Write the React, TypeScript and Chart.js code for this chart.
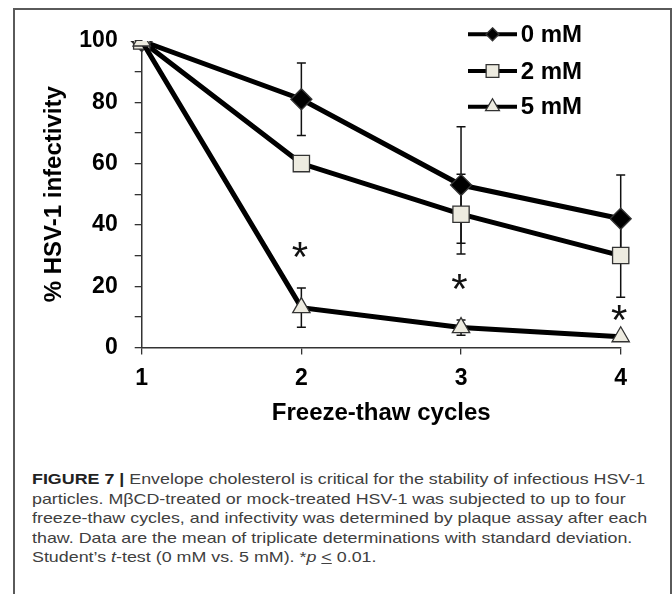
import React, { useEffect, useRef } from "react";
import { Chart, registerables } from "chart.js";

Chart.register(...registerables);

const cycles = ["1", "2", "3", "4"];
const seriesNames = ["0 mM", "2 mM", "5 mM"];
const mM0 = [100, 81, 53, 42];
const mM2 = [100, 60, 43.5, 30];
const mM5 = [100, 13, 6.5, 3.5];
const err0 = [0, 11.8, 19, 14.3];
const err2 = [0, 0, 13, 13.6];
const err5 = [0, 6.4, 2.5, 0];
const asteriskX = [1, 2, 3];
const asteriskY = [31.8, 21.5, 11.4];
const yTicks = [0, 20, 40, 60, 80, 100];

const FONT = "'Liberation Sans', Arial, Helvetica, sans-serif";
const FILL = "#edebe0";
const EDGE = "#333333";

function drawMarker(ctx: CanvasRenderingContext2D, style: string, x: number, y: number, r: number, fill: string) {
  ctx.beginPath();
  if (style === "rectRot") {
    ctx.moveTo(x, y - r);
    ctx.lineTo(x + r, y);
    ctx.lineTo(x, y + r);
    ctx.lineTo(x - r, y);
    ctx.closePath();
  } else if (style === "rect") {
    const s = r * Math.SQRT1_2;
    ctx.rect(x - s, y - s, 2 * s, 2 * s);
  } else {
    const w = r * Math.sin((2 * Math.PI) / 3);
    ctx.moveTo(x, y - r);
    ctx.lineTo(x + w, y + r / 2);
    ctx.lineTo(x - w, y + r / 2);
    ctx.closePath();
  }
  ctx.fillStyle = fill;
  ctx.fill();
  ctx.lineWidth = 1.3;
  ctx.strokeStyle = EDGE;
  ctx.stroke();
}

const errorBarPlugin = {
  id: "errorBars",
  beforeDatasetsDraw(chart: any) {
    const ctx = chart.ctx;
    const xs = chart.scales.x;
    const ys = chart.scales.y;
    const sets = [
      { v: mM0, e: err0 },
      { v: mM2, e: err2 },
      { v: mM5, e: err5 },
    ];
    ctx.save();
    ctx.strokeStyle = "#111";
    ctx.lineWidth = 1.5;
    sets.forEach((s) => {
      s.v.forEach((val, i) => {
        const e = s.e[i];
        if (!e) return;
        const px = xs.getPixelForValue(i);
        const top = ys.getPixelForValue(val + e);
        const bot = ys.getPixelForValue(val - e);
        ctx.beginPath();
        ctx.moveTo(px, top);
        ctx.lineTo(px, bot);
        ctx.moveTo(px - 4.5, top);
        ctx.lineTo(px + 4.5, top);
        ctx.moveTo(px - 4.5, bot);
        ctx.lineTo(px + 4.5, bot);
        ctx.stroke();
      });
    });
    ctx.restore();
  },
};

const overlayPlugin = {
  id: "overlay",
  afterDraw(chart: any) {
    const ctx = chart.ctx;
    const xs = chart.scales.x;
    const ys = chart.scales.y;
    ctx.save();
    // asterisks
    ctx.fillStyle = "#111";
    ctx.font = `42px ${FONT}`;
    ctx.textAlign = "center";
    ctx.textBaseline = "alphabetic";
    asteriskX.forEach((xi, i) => {
      const px = xs.getPixelForValue(xi);
      const py = ys.getPixelForValue(asteriskY[i]);
      const m = ctx.measureText("*");
      const off = (m.actualBoundingBoxAscent - m.actualBoundingBoxDescent) / 2;
      ctx.fillText("*", px - 1.5, py + off);
    });
    // legend
    const styles = ["rectRot", "rect", "triangle"];
    const fills = ["#000", FILL, FILL];
    const radii = [6.5, 9, 8];
    const rowY = [26.3, 63, 98.7];
    const x0 = 455;
    const x1 = 504;
    ctx.font = `bold 24px ${FONT}`;
    ctx.textAlign = "left";
    ctx.textBaseline = "middle";
    seriesNames.forEach((name, i) => {
      const y = rowY[i];
      ctx.strokeStyle = "#000";
      ctx.lineWidth = 4;
      ctx.beginPath();
      ctx.moveTo(x0, y);
      ctx.lineTo(x1, y);
      ctx.stroke();
      drawMarker(ctx, styles[i], (x0 + x1) / 2, y, radii[i], fills[i]);
      ctx.fillStyle = "#000";
      ctx.fillText(name, 507.7, y + 1);
    });
    ctx.restore();
  },
};

export default function App() {
  const ref = useRef<HTMLCanvasElement>(null);
  useEffect(() => {
    if (!ref.current) return;
    const common = {
      borderColor: "#000",
      borderWidth: 5,
      pointBorderColor: EDGE,
      pointBorderWidth: 1.3,
      tension: 0,
      fill: false,
    };
    const chart = new Chart(ref.current, {
      type: "line",
      data: {
        labels: cycles,
        datasets: [
          { ...common, label: seriesNames[0], data: mM0, pointStyle: "rectRot", pointRadius: 10.5, pointBackgroundColor: "#000", order: 3 },
          { ...common, label: seriesNames[1], data: mM2, pointStyle: "rect", pointRadius: 11.5, pointBackgroundColor: FILL, order: 2 },
          { ...common, label: seriesNames[2], data: mM5, pointStyle: "triangle", pointRadius: 10, pointBackgroundColor: FILL, order: 1 },
        ],
      },
      options: {
        animation: false,
        responsive: false,
        events: [],
        layout: { padding: { left: 0, top: 33, right: 50.3, bottom: 0 } },
        plugins: { legend: { display: false }, tooltip: { enabled: false } },
        scales: {
          x: {
            type: "category",
            offset: false,
            afterFit(scale: any) {
              scale.height = 80.5;
            },
            grid: { display: true, drawOnChartArea: false, drawTicks: true, tickLength: 7, color: EDGE, lineWidth: 1.3 },
            border: { display: true, color: EDGE, width: 1.5 },
            ticks: { color: "#000", padding: 10, font: { family: FONT, size: 23, weight: "bold" } },
            title: {
              display: true,
              text: "Freeze-thaw cycles",
              color: "#000",
              font: { family: FONT, size: 24, weight: "bold" },
              padding: { top: 0, bottom: 0.6 },
            },
          },
          y: {
            min: 0,
            max: 100,
            afterFit(scale: any) {
              scale.width = 128.7;
            },
            grid: { display: true, drawOnChartArea: false, drawTicks: true, tickLength: 7, color: EDGE, lineWidth: 1.3 },
            border: { display: true, color: EDGE, width: 1.5 },
            ticks: {
              stepSize: 10,
              color: "#000",
              padding: 17,
              font: { family: FONT, size: 23, weight: "bold" },
              callback: (v: any) => (yTicks.includes(Number(v)) ? String(v) : ""),
            },
            title: {
              display: true,
              text: "% HSV-1 infectivity",
              color: "#000",
              font: { family: FONT, size: 24, weight: "bold" },
              padding: { top: 26.6, bottom: 0 },
            },
          },
        },
      },
      plugins: [errorBarPlugin, overlayPlugin],
    } as any);
    return () => chart.destroy();
  }, []);

  return (
    <div style={{ position: "absolute", left: 0, top: 0, width: 672, height: 594, overflow: "hidden", background: "#fff" }}>
      <div
        style={{
          position: "absolute",
          left: 13,
          top: 8,
          width: 655,
          height: 640,
          border: "2px solid #5a5a5a",
          boxSizing: "content-box",
        }}
      />
      <canvas ref={ref} width={658} height={420} style={{ position: "absolute", left: 13, top: 8, width: 658, height: 420 }} />
      <div
        style={{
          position: "absolute",
          left: 32,
          top: 469,
          width: 540,
          fontFamily: FONT,
          fontSize: 15,
          lineHeight: "19.6px",
          color: "#404040",
          whiteSpace: "nowrap",
          transform: "scaleX(1.19)",
          transformOrigin: "0 0",
        }}
      >
        <div>
          <b style={{ color: "#222" }}>FIGURE 7 |</b> Envelope cholesterol is critical for the stability of infectious HSV-1
        </div>
        <div>particles. MβCD-treated or mock-treated HSV-1 was subjected to up to four</div>
        <div>freeze-thaw cycles, and infectivity was determined by plaque assay after each</div>
        <div>thaw. Data are the mean of triplicate determinations with standard deviation.</div>
        <div>
          Student’s <i>t</i>-test (0 mM vs. 5 mM). *<i>p</i> <u>&lt;</u> 0.01.
        </div>
      </div>
    </div>
  );
}
